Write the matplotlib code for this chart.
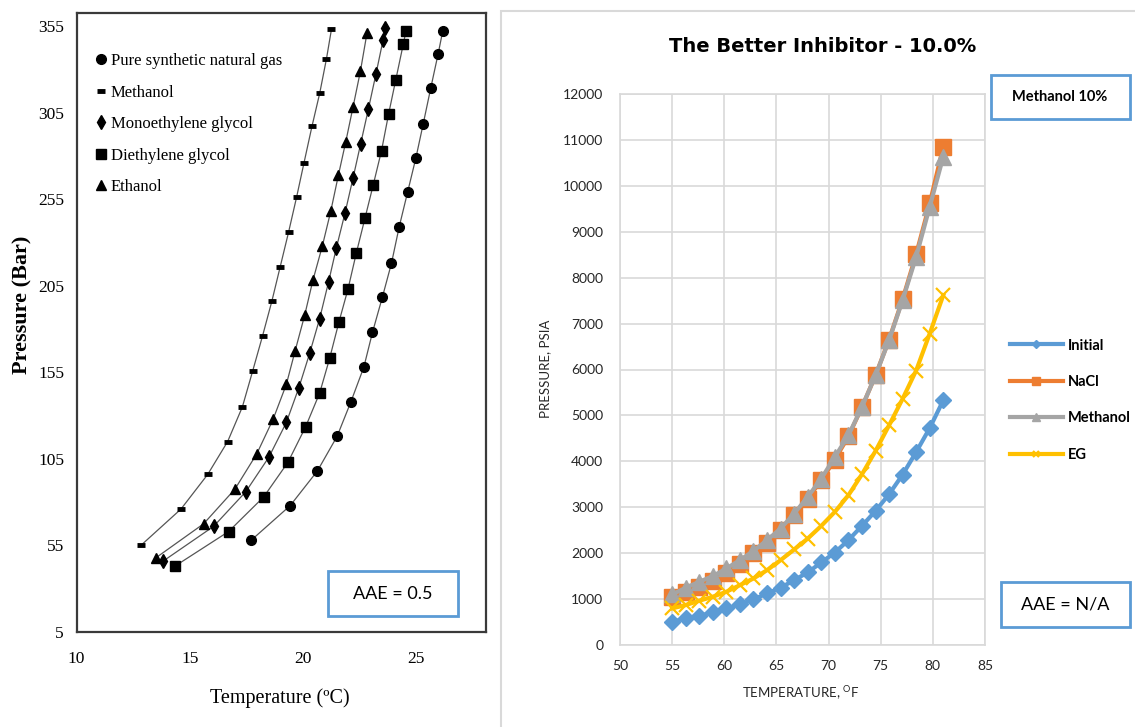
import matplotlib
matplotlib.use('Agg')
import matplotlib.pyplot as plt
from matplotlib.patches import Rectangle

plt.rcParams['mathtext.fontset'] = 'custom'
plt.rcParams['mathtext.rm'] = 'Lato'

# ---------------- Left chart data (Temperature degC, Pressure bar) ----------------
pure_T = [17.71, 19.43, 20.63, 21.50, 22.11, 22.68, 23.06, 23.50, 23.90, 24.24, 24.61, 24.98, 25.30, 25.63, 25.96, 26.16]
pure_P = [58, 78, 98, 118, 138, 158, 178, 198.5, 218, 239, 259, 279, 298.5, 319, 339, 352]

meth_T = [12.84, 14.61, 15.79, 16.67, 17.32, 17.78, 18.21, 18.62, 18.99, 19.36, 19.71, 20.04, 20.39, 20.73, 21.03, 21.25]
meth_P = [55, 76, 96, 115, 135, 156, 176, 196, 216, 236, 256, 276, 297, 316, 336, 353]

meg_T = [13.83, 16.05, 17.47, 18.49, 19.26, 19.81, 20.29, 20.73, 21.12, 21.47, 21.85, 22.20, 22.54, 22.88, 23.21, 23.53, 23.61]
meg_P = [46, 66, 86, 106, 126, 146, 166, 186, 207, 227, 247, 267, 287, 307, 327, 347, 354]

deg_T = [14.34, 16.71, 18.26, 19.33, 20.11, 20.73, 21.17, 21.58, 21.98, 22.35, 22.73, 23.09, 23.46, 23.77, 24.09, 24.42, 24.54]
deg_P = [43, 63, 83, 103, 123.5, 143, 163, 184, 203, 224, 244, 263, 283, 304, 324, 344.5, 352]

eth_T = [13.52, 15.61, 16.99, 17.96, 18.68, 19.26, 19.64, 20.07, 20.43, 20.85, 21.22, 21.56, 21.88, 22.20, 22.53, 22.82]
eth_P = [48, 67.5, 87.5, 108, 128, 148, 167, 188, 208, 228, 248, 269, 288, 308, 329, 351]

left_labels = ['Pure synthetic natural gas', 'Methanol', 'Monoethylene glycol',
               'Diethylene glycol', 'Ethanol']
left_xticks = [10, 15, 20, 25]
left_yticks = [5, 55, 105, 155, 205, 255, 305, 355]

# ---------------- Right chart data (Temperature degF, Pressure psia) ----------------
temp_F = [55, 56.3, 57.6, 58.9, 60.2, 61.5, 62.8, 64.1, 65.4, 66.7, 68, 69.3, 70.6,
          71.9, 73.2, 74.5, 75.8, 77.1, 78.4, 79.7, 81]
initial = [507, 580, 638, 710, 797, 884, 993, 1123, 1246, 1413, 1580, 1797, 2014,
           2283, 2594, 2920, 3283, 3710, 4203, 4725, 5330]
nacl = [1036, 1159, 1268, 1399, 1558, 1761, 1993, 2225, 2500, 2826, 3188, 3587, 4036,
        4543, 5181, 5870, 6651, 7531, 8513, 9618, 10855]
methanol10 = [1101, 1246, 1377, 1500, 1667, 1848, 2051, 2283, 2536, 2862, 3225, 3623, 4094,
              4565, 5181, 5870, 6636, 7509, 8455, 9545, 10636]
eg = [797, 870, 964, 1051, 1159, 1304, 1449, 1630, 1848, 2080, 2319, 2594, 2899,
      3261, 3717, 4225, 4783, 5362, 5978, 6782, 7618]
right_labels = ['Initial', 'NaCl', 'Methanol', 'EG']
right_xticks = [50, 55, 60, 65, 70, 75, 80, 85]
right_yticks = [0, 1000, 2000, 3000, 4000, 5000, 6000, 7000, 8000, 9000, 10000, 11000, 12000]

W, H = 1135, 727
fig = plt.figure(figsize=(W / 100, H / 100), dpi=100)
fig.patch.set_facecolor('white')


def fx(px):
    return px / W


def fy(py):
    return 1 - py / H


SERIF = 'Liberation Serif'
SANS = 'Lato'
BLUE_BOX = '#5B9BD5'

# ================= LEFT CHART =================
axL = fig.add_axes([fx(76.5), fy(632), (486 - 76.5) / W, (632 - 13.3) / H])
axL.set_xlim(10, 28.07)
axL.set_ylim(5, 362.3)
for sp in axL.spines.values():
    sp.set_color('#3a3a3a')
    sp.set_linewidth(1.6)
axL.set_xticks(left_xticks)
axL.set_yticks(left_yticks)
axL.tick_params(length=0, labelsize=12.5)
axL.tick_params(axis='x', pad=14)
axL.tick_params(axis='y', pad=9)
for lab in axL.get_xticklabels() + axL.get_yticklabels():
    lab.set_fontfamily(SERIF)

left_series = [
    (pure_T, pure_P, 'o', 7.0, 1.0),
    (meth_T, meth_P, '_', 6.0, 3.5),
    (meg_T, meg_P, 'd', 7.5, 1.0),
    (deg_T, deg_P, 's', 7.0, 1.0),
    (eth_T, eth_P, '^', 7.5, 1.0),
]
for (T, P, mk, ms, mew), lab in zip(left_series, left_labels):
    axL.plot(T, P, color='#555555', lw=0.9, zorder=2)
    axL.plot(T, P, ls='none', marker=mk, ms=ms, mew=mew, color='black',
             label=lab, zorder=3)

legL = axL.legend(loc='upper left', bbox_to_anchor=(0.047, 0.9355), frameon=False,
                  prop={'family': SERIF, 'size': 12}, handlelength=0.6,
                  handletextpad=0.3, labelspacing=0.93, borderpad=0, borderaxespad=0)

axL.set_ylabel('Pressure (Bar)', fontfamily=SERIF, fontsize=16, fontweight='bold',
               va='center', ha='center')
axL.yaxis.set_label_coords((22 - 76.5) / 409.5, (632 - 305) / 618.7)
axL.set_xlabel('Temperature (\u00baC)', fontfamily=SERIF, fontsize=14.5,
               va='center', ha='center')
axL.xaxis.set_label_coords((280 - 76.5) / 409.5, (632 - 698) / 618.7)

fig.add_artist(Rectangle((fx(328), fy(616)), (458 - 328) / W, (616 - 570.7) / H,
                         transform=fig.transFigure, facecolor='white',
                         edgecolor=BLUE_BOX, lw=2, zorder=5))
fig.text(fx(393), fy(594), 'AAE = 0.5', fontfamily=SANS, fontsize=13,
         ha='center', va='center', zorder=6)

# ================= RIGHT CHART =================
fig.add_artist(Rectangle((fx(501), fy(760)), (1160 - 501) / W, (760 - 11) / H,
                         transform=fig.transFigure, fill=False,
                         edgecolor='#D9D9D9', lw=1.5, zorder=0))

axR = fig.add_axes([fx(620), fy(645), 365 / W, 551 / H])
axR.set_xlim(50, 85)
axR.set_ylim(0, 12000)
axR.set_xticks(right_xticks)
axR.set_yticks(right_yticks)
axR.grid(True, color='#D9D9D9', lw=1.2)
axR.set_axisbelow(True)
for sp in axR.spines.values():
    sp.set_color('#D9D9D9')
    sp.set_linewidth(1.2)
axR.tick_params(length=0, labelsize=10, labelcolor='#262626')
axR.tick_params(axis='x', pad=11)
axR.tick_params(axis='y', pad=12)
for lab in axR.get_xticklabels() + axR.get_yticklabels():
    lab.set_fontfamily(SANS)

right_series = [
    (initial, '#5B9BD5', 'D', 8.5, 1.0),
    (nacl, '#ED7D31', 's', 11.5, 1.0),
    (methanol10, '#A5A5A5', '^', 11.5, 1.0),
    (eg, '#FFC000', 'x', 10, 1.6),
]
handles = []
for (vals, col, mk, ms, mew), lab in zip(right_series, right_labels):
    ln, = axR.plot(temp_F, vals, color=col, lw=3.0, marker=mk, ms=ms, mew=mew,
                   mfc=col, mec=col, label=lab, clip_on=False)
    handles.append(ln)

fig.legend(handles, right_labels, loc='upper left',
           bbox_to_anchor=(fx(1010), fy(338.5)), frameon=False,
           prop={'family': SANS, 'weight': 'bold', 'size': 10.5},
           handlelength=3.6, handletextpad=0.35, labelspacing=1.54,
           borderpad=0, borderaxespad=0, markerscale=0.5)

axR.set_ylabel('PRESSURE, PSIA', fontfamily=SANS, fontsize=9.5, color='#262626',
               va='center', ha='center')
axR.yaxis.set_label_coords((545 - 620) / 365, (645 - 369) / 551)
axR.set_xlabel('TEMPERATURE, $^{\\mathrm{O}}$F', fontfamily=SANS, fontsize=9.5,
               color='#262626', va='center', ha='center')
axR.xaxis.set_label_coords((800.5 - 620) / 365, (645 - 693) / 551)

fig.text(fx(822.5), fy(46.5), 'The Better Inhibitor - 10.0%', fontfamily='DejaVu Sans',
         fontweight='bold', fontsize=14, ha='center', va='center')

fig.add_artist(Rectangle((fx(990.7), fy(119)), (1130 - 990.7) / W, (119 - 75) / H,
                         transform=fig.transFigure, facecolor='white',
                         edgecolor=BLUE_BOX, lw=2, zorder=5))
fig.text(fx(1060), fy(97), 'Methanol 10%', fontfamily=SANS, fontweight='bold',
         fontsize=10.5, ha='center', va='center', zorder=6)

fig.add_artist(Rectangle((fx(1000.8), fy(626.7)), (1130 - 1000.8) / W, (626.7 - 581.7) / H,
                         transform=fig.transFigure, facecolor='white',
                         edgecolor=BLUE_BOX, lw=2, zorder=5))
fig.text(fx(1065), fy(604), 'AAE = N/A', fontfamily=SANS, fontsize=13,
         ha='center', va='center', zorder=6)

fig.savefig('out.png', dpi=100, facecolor='white')
